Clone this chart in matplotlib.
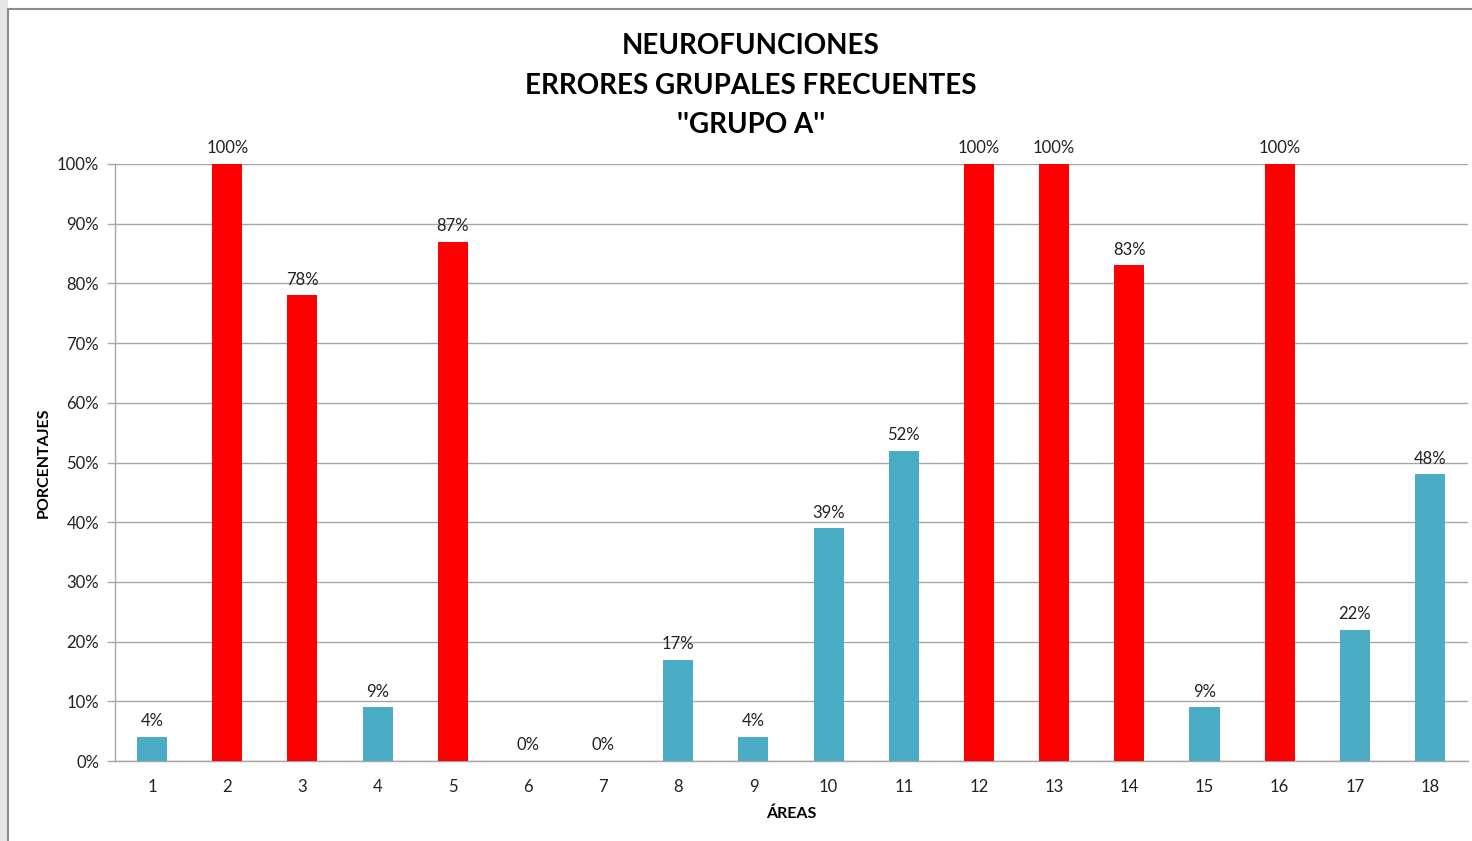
import matplotlib
matplotlib.use("Agg")
import matplotlib.pyplot as plt
from matplotlib.patches import Rectangle
from matplotlib.ticker import PercentFormatter

areas = [str(i) for i in range(1, 19)]
porcentajes = [4, 100, 78, 9, 87, 0, 0, 17, 4, 39, 52, 100, 100, 83, 9, 100, 22, 48]
frecuente = [False, True, True, False, True, False, False, False, False,
             False, False, True, True, True, False, True, False, False]

ROJO = "#FF0000"
TURQUESA = "#4BACC6"

plt.rcParams["font.family"] = ["Lato", "DejaVu Sans"]

W, H = 1472, 841
fig = plt.figure(figsize=(W / 100, H / 100), dpi=100)

# outer chart frame with a soft shadow on the left
fig.patches.append(Rectangle((0, 0), 8 / W, 1, transform=fig.transFigure,
                             facecolor="#e6e6e6", edgecolor="none", zorder=0))
fig.patches.append(Rectangle((8 / W, -0.1), 1.2, 1 - 9 / H + 0.1,
                             transform=fig.transFigure, facecolor="white",
                             edgecolor="#8c8c8c", linewidth=1.5, zorder=1))

ax = fig.add_axes([114.5 / W, 1 - 761 / H, (1467.6 - 114.5) / W, (761 - 164) / H])
ax.set_zorder(5)
ax.set_facecolor("none")

x = list(range(len(areas)))
colores = [ROJO if f else TURQUESA for f in frecuente]
bars = ax.bar(x, porcentajes, width=0.4, color=colores, zorder=3)

for xi, v in zip(x, porcentajes):
    ax.annotate(f"{v}%", (xi, v), xytext=(0, 5.5), textcoords="offset points",
                ha="center", va="bottom", fontsize=12, color="#222222",
                annotation_clip=False)

ax.set_xlim(-0.5, len(areas) - 0.5)
ax.set_ylim(0, 100)
ax.set_yticks(range(0, 101, 10))
ax.yaxis.set_major_formatter(PercentFormatter(decimals=0))
ax.set_xticks(x)
ax.set_xticklabels(areas)
ax.tick_params(axis="x", length=0, pad=13, labelsize=12, labelcolor="#222222")
ax.tick_params(axis="y", length=6, width=1, color="#a6a6a6", pad=5,
               labelsize=12, labelcolor="#222222")
ax.grid(axis="y", color="#a6a6a6", linewidth=1, zorder=0)
for s in ["top", "right"]:
    ax.spines[s].set_visible(False)
for s in ["left", "bottom"]:
    ax.spines[s].set_color("#a6a6a6")
    ax.spines[s].set_linewidth(1)

ax.set_xlabel("ÁREAS", fontsize=11.5, fontweight="bold", labelpad=8)
ax.set_ylabel("PORCENTAJES", fontsize=11.5, fontweight="bold", labelpad=4.5)

titulo = ["NEUROFUNCIONES", "ERRORES GRUPALES FRECUENTES", "''GRUPO A''"]
for i, linea in enumerate(titulo):
    fig.text(751 / W, 1 - (46 + 39.5 * i) / H, linea, ha="center", va="center",
             fontsize=20, fontweight="bold", color="black", zorder=6)

fig.savefig("out.png", dpi=100)
